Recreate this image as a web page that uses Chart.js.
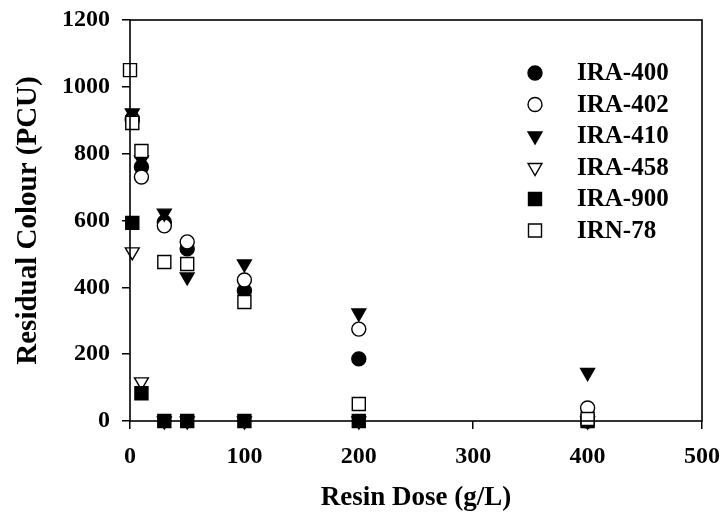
<!DOCTYPE html>
<html>
<head>
<meta charset="utf-8">
<script src="https://cdn.jsdelivr.net/npm/chart.js@4.4.1/dist/chart.umd.min.js"></script>
<style>
  body { margin: 0; background: #fff; }
  #wrap { width: 723px; height: 517px; }
</style>
</head>
<body>
<div id="wrap"><canvas id="chart" width="723" height="517"></canvas></div>
<script>
// resin dose (g/L)
const doses = [0, 2, 10, 30, 50, 100, 200, 400]
// residual colour (PCU), null = no point
const ira400 = [null, 905, 760, 595, 515, 390, 186, 0]
const ira402 = [null, 900, 730, 584, 536, 422, 275, 39]
const ira410 = [null, 922, 781, 622, 431, 470, 323, 145]
const ira458 = [null, 506, 117, 0, 0, 0, 0, 0]
const ira900 = [null, 593, 83, 0, 0, 0, 0, 0]
const irn78 = [1050, 892, 808, 476, 470, 356, 51, 6]

const seriesNames = ['IRA-400', 'IRA-402', 'IRA-410', 'IRA-458', 'IRA-900', 'IRN-78']
const seriesValues = [ira400, ira402, ira410, ira458, ira900, irn78]
const yTicks = [0, 200, 400, 600, 800, 1000, 1200]
const xTicks = [0, 100, 200, 300, 400, 500]

const font = 'Liberation Serif'
const markers = [
  {pointStyle: 'circle', rotation: 0, radius: 7, fill: '#000'},
  {pointStyle: 'circle', rotation: 0, radius: 7, fill: '#fff'},
  {pointStyle: 'triangle', rotation: 180, radius: 8, fill: '#000'},
  {pointStyle: 'triangle', rotation: 180, radius: 8, fill: '#fff'},
  {pointStyle: 'rect', rotation: 0, radius: 9.2, fill: '#000'},
  {pointStyle: 'rect', rotation: 0, radius: 9.2, fill: '#fff'}
]

const datasets = seriesNames.map((name, i) => ({
  label: name,
  data: doses.map((d, j) => ({x: d, y: seriesValues[i][j]})).filter(p => p.y !== null),
  pointStyle: markers[i].pointStyle,
  pointRotation: markers[i].rotation,
  pointRadius: markers[i].radius,
  pointHoverRadius: markers[i].radius,
  pointBackgroundColor: markers[i].fill,
  pointBorderColor: '#000',
  pointBorderWidth: 1.4,
  showLine: false,
  clip: false,
  order: seriesNames.length - 1 - i   // later series on top
}))

// frame around the plot area
const framePlugin = {
  id: 'frame',
  afterDatasetsDraw(chart) {
    const {ctx, chartArea: a} = chart
    ctx.save()
    ctx.strokeStyle = '#000'
    ctx.lineWidth = 1.6
    ctx.strokeRect(a.left, a.top, a.right - a.left, a.bottom - a.top)
    ctx.restore()
  }
}

// legend inside the plot, top right
const legendPlugin = {
  id: 'innerLegend',
  afterDraw(chart) {
    const ctx = chart.ctx
    ctx.save()
    seriesNames.forEach((name, i) => {
      const y = 73 + i * 31.5
      const m = markers[i]
      ctx.fillStyle = m.fill
      ctx.strokeStyle = '#000'
      ctx.lineWidth = 1.4
      Chart.helpers.drawPoint(ctx, {pointStyle: m.pointStyle, rotation: m.rotation, radius: m.radius, borderWidth: 1.4}, 535, y)
      ctx.fillStyle = '#000'
      ctx.font = `bold 25px "${font}"`
      ctx.textAlign = 'left'
      ctx.textBaseline = 'middle'
      ctx.fillText(name, 577, y + 1)
    })
    ctx.restore()
  }
}

// keep the plot area fixed: ignore label overflow padding
const noPad = s => { s.paddingLeft = 0; s.paddingRight = 0; s.paddingTop = 0; s.paddingBottom = 0 }

new Chart(document.getElementById('chart'), {
  type: 'scatter',
  data: {datasets},
  plugins: [framePlugin, legendPlugin],
  options: {
    responsive: false,
    animation: false,
    layout: {padding: {top: 20, right: 21, left: 0, bottom: 0}},
    plugins: {legend: {display: false}, tooltip: {enabled: false}},
    scales: {
      x: {
        type: 'linear',
        min: 0, max: 500,
        afterBuildTicks: s => { s.ticks = xTicks.map(v => ({value: v})) },
        afterFit: s => { s.height = 96; noPad(s) },
        grid: {drawOnChartArea: false, tickLength: 8, color: '#000', lineWidth: 1.5},
        border: {display: false},
        ticks: {autoSkip: false, maxRotation: 0, padding: 13, color: '#000',
          callback: v => String(v),
          font: {family: font, size: 24, weight: 'bold'}},
        title: {display: true, text: 'Resin Dose (g/L)', color: '#000', padding: {top: 0, bottom: 3},
          font: {family: font, size: 27, weight: 'bold'}}
      },
      y: {
        type: 'linear',
        min: 0, max: 1200,
        afterBuildTicks: s => { s.ticks = yTicks.map(v => ({value: v})) },
        afterFit: s => { s.width = 130; noPad(s) },
        grid: {drawOnChartArea: false, tickLength: 8, color: '#000', lineWidth: 1.5},
        border: {display: false},
        ticks: {autoSkip: false, padding: 12, color: '#000',
          callback: v => String(v),
          font: {family: font, size: 24, weight: 'bold'}},
        title: {display: true, text: 'Residual Colour (PCU)', color: '#000', padding: {top: 11, bottom: 0},
          font: {family: font, size: 29, weight: 'bold'}}
      }
    }
  }
})
</script>
</body>
</html>
